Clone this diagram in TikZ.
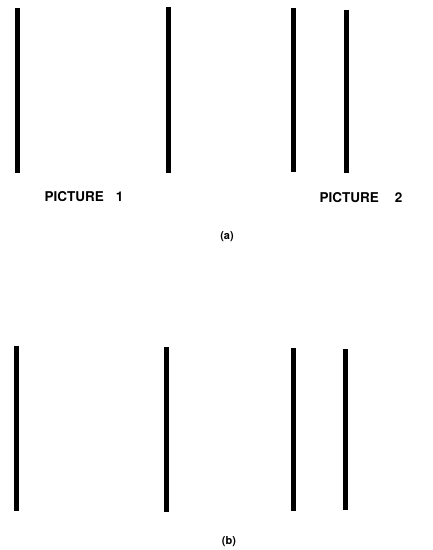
\documentclass[tikz,border=0pt]{standalone}
\usepackage{fontspec}
\setmainfont{TeX Gyre Heros}
\usetikzlibrary{positioning}
\tikzstyle{bar} = [line width=5pt, black]
\tikzstyle{label} = [font=\bfseries\fontsize{13.5}{13.5}\selectfont, inner sep=0pt]
\tikzstyle{caption} = [font=\bfseries\fontsize{11}{11}\selectfont, inner sep=0pt]

\begin{document}
\begin{tikzpicture}[x=1pt, y=-1pt]
        \useasboundingbox (0,0) rectangle (433,550);
        % picture (a)
        \draw[bar] (17,8) -- (17,173);
        \draw[bar] (168,7) -- (168,173);
        \draw[bar] (293,8) -- (293,172);
        \draw[bar] (346,10) -- (346,173);
        \node[label] (pic1) at (84,197) {PICTURE\hspace{0.9em}1};
        \node[label] (pic2) at (361,198) {PICTURE\hspace{1.2em}2};
        \node[caption] (capa) at (227,237) {(a)};
        % picture (b)
        \draw[bar] (16,346) -- (16,511);
        \draw[bar] (166,347) -- (166,512);
        \draw[bar] (293,348) -- (293,511);
        \draw[bar] (345,349) -- (345,510);
        \node[caption] (capb) at (229,542) {(b)};
    \end{tikzpicture}
\end{document}
